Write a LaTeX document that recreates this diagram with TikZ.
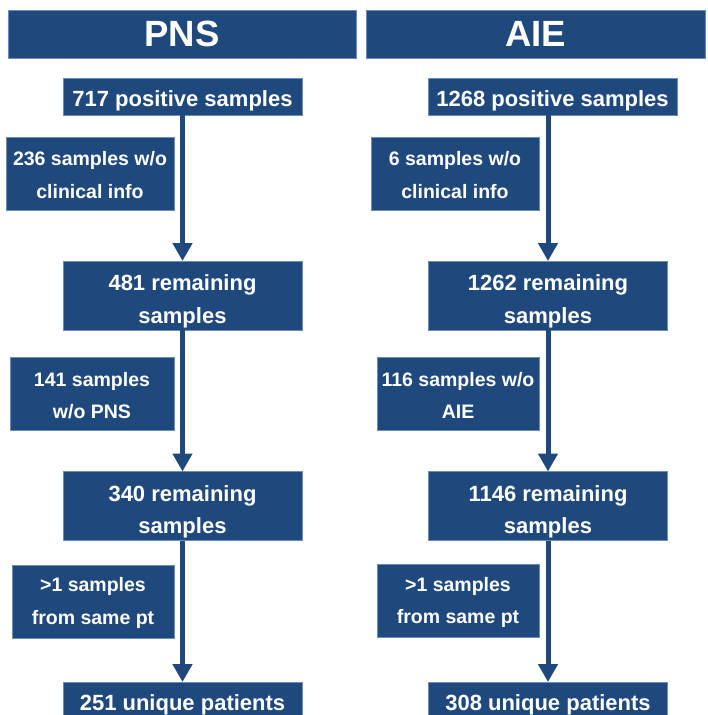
\documentclass[tikz,border=0pt]{standalone}
\usepackage{fontspec}
\setmainfont{Liberation Sans}
\usetikzlibrary{arrows.meta}

\definecolor{boxblue}{HTML}{1F497D}
\definecolor{edgeblue}{HTML}{6A8CBE}

% invisible strut: a taller first line pushes the box text down a bit
\newcommand{\topgap}[1]{\rule{0pt}{#1}}

\begin{document}
\begin{tikzpicture}[x=1pt,y=-1pt,outer sep=0pt]
    \tikzstyle{card}=[fill=boxblue,draw=edgeblue,line width=0.8pt,text=white,align=center,inner sep=0pt]
    \tikzstyle{head}=[card,minimum height=48pt,font=\bfseries\fontsize{36.5}{40}\selectfont]
    \tikzstyle{stage}=[card,font=\bfseries\fontsize{22}{32.5}\selectfont]
    \tikzstyle{drop}=[card,minimum height=73pt,font=\bfseries\fontsize{19.5}{32.5}\selectfont]
    \tikzstyle{flow}=[draw=boxblue,line width=5pt,-{Triangle[width=19pt,length=18pt]}]

    \useasboundingbox (0,0) rectangle (707,715);

    \node[head,minimum width=348pt] (H-1) at (182,34) {PNS};
    \node[head,minimum width=339pt] (H-2) at (535.5,34) {AIE};

    % PNS column
    \foreach \num/\y/\h/\txt in {1/96.5/37/{\topgap{24pt}717 positive samples}, 2/295.5/69/{\topgap{28pt}481 remaining\\samples},
                                 3/506/69/{\topgap{28pt}340 remaining\\samples}, 4/700.5/37/{\topgap{24pt}251 unique patients}}
        \node[stage,minimum width=239pt,minimum height=\h pt] (P-\num) at (182.5,\y) {\txt};

    \foreach \num/\x/\y/\w/\txt in {1/90/173.5/168/{\topgap{17pt}236 samples w/o\\clinical info}, 2/92/394/164/{\topgap{17pt}141 samples\\w/o PNS},
                                    3/93/601.5/162/{\topgap{17pt}>1 samples\\from same pt}}
        \node[drop,minimum width=\w pt] (PX-\num) at (\x,\y) {\txt};

    % AIE column
    \node[stage,minimum width=249pt,minimum height=37pt] (A-1) at (552.5,96.5) {\topgap{24pt}1268 positive samples};
    \foreach \num/\y/\h/\txt in {2/295.5/69/{\topgap{28pt}1262 remaining\\samples}, 3/506/69/{\topgap{28pt}1146 remaining\\samples},
                                 4/700.5/37/{\topgap{24pt}308 unique patients}}
        \node[stage,minimum width=239pt,minimum height=\h pt] (A-\num) at (548,\y) {\txt};

    \foreach \num/\x/\y/\w/\txt in {1/455/173.5/168/{\topgap{17pt}6 samples w/o\\clinical info}, 2/458/394/162/{\topgap{17pt}116 samples w/o\\AIE},
                                    3/458/601/162/{\topgap{17pt}>1 samples\\from same pt}}
        \node[drop,minimum width=\w pt] (AX-\num) at (\x,\y) {\txt};

    \foreach \from/\to in {1/2, 2/3, 3/4}
    {
        \draw[flow] (P-\from.south -| P-\to.north) -- (P-\to.north);
        \draw[flow] (A-\from.south -| A-\to.north) -- (A-\to.north);
    }
\end{tikzpicture}
\end{document}
